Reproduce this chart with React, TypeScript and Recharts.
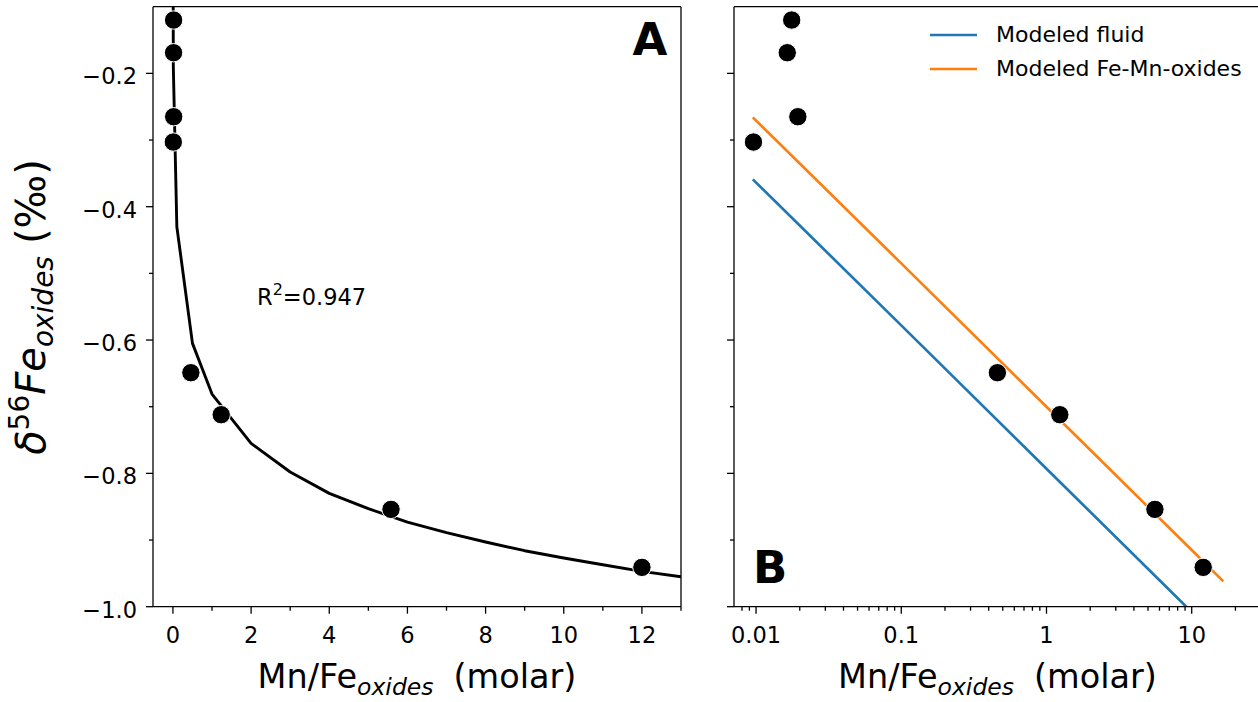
import React from 'react';
import { ComposedChart, Line, Scatter, XAxis, YAxis, Legend } from 'recharts';

// Measured data (Mn/Fe oxides molar ratio vs d56Fe oxides)
const measuredX = [0.0176, 0.0164, 0.0194, 0.0096, 0.459, 1.235, 5.58, 12.0];
const measuredY = [-0.12, -0.169, -0.265, -0.303, -0.649, -0.712, -0.854, -0.941];

// Fitted curve, panel A
const fitX = [0.001, 0.01, 0.1, 0.5, 1, 2, 3, 4, 5, 6, 7, 8, 9, 10, 11, 12, 13];
const fitY = [0.06, -0.19, -0.43, -0.605, -0.681, -0.755, -0.798, -0.83, -0.853, -0.873, -0.889, -0.903, -0.916, -0.927, -0.937, -0.947, -0.955];

// Model lines, panel B
const modelX = [0.0095, 0.1, 1, 10, 16.5];
const fluidY = [-0.359, -0.578, -0.793, -1.008, -1.054];
const oxideY = [-0.266, -0.485, -0.7, -0.915, -0.962];

// Ticks
const yMajor = [-1.0, -0.8, -0.6, -0.4, -0.2];
const yMinor = [-0.9, -0.7, -0.5, -0.3];
const xMajorA = [0, 2, 4, 6, 8, 10, 12];
const xMinorA = [1, 3, 5, 7, 9, 11, 13];
const xMajorB = [0.01, 0.1, 1, 10];
const xMinorB = [0.008, 0.009, 0.02, 0.03, 0.04, 0.05, 0.06, 0.07, 0.08, 0.09, 0.2, 0.3, 0.4, 0.5, 0.6, 0.7, 0.8, 0.9, 2, 3, 4, 5, 6, 7, 8, 9, 20];
const xLabelsB = ['0.01', '0.1', '1', '10'];
const legendOrder = ['Modeled fluid', 'Modeled Fe-Mn-oxides'];

const FONT = 'DejaVu Sans';
const BLUE = '#1f77b4';
const ORANGE = '#ff7f0e';

const pts = (xs: number[], ys: number[]) => xs.map((x, i) => ({ x, y: ys[i] }));
const measured = pts(measuredX, measuredY);
const fit = pts(fitX, fitY);
const fluid = pts(modelX, fluidY);
const oxide = pts(modelX, oxideY);

const isIn = (arr: number[], v: number) => arr.some((m) => Math.abs(m - v) < 1e-9);
const fmtY = (v: number) => v.toFixed(1).replace('-', '\u2212');

const makeXTick = (majors: number[], fmt: (v: number) => string) => (props: any) => {
  const { x, y, payload } = props;
  const v = payload.value;
  const major = isIn(majors, v);
  return (
    <g>
      <line x1={x} x2={x} y1={y} y2={y + (major ? 7 : 4)} stroke="#000" strokeWidth={1.3} />
      {major && (
        <text x={x} y={y + 36.5} textAnchor="middle" fontSize={22.5} fontFamily={FONT} fill="#000">
          {fmt(v)}
        </text>
      )}
    </g>
  );
};

const makeYTick = (showLabel: boolean) => (props: any) => {
  const { x, y, payload } = props;
  const v = payload.value;
  const major = isIn(yMajor, v);
  return (
    <g>
      <line x1={x} x2={x - (major ? 7 : 4)} y1={y} y2={y} stroke="#000" strokeWidth={1.3} />
      {major && showLabel && (
        <text x={x - 16} y={y + 11} textAnchor="end" fontSize={22.5} fontFamily={FONT} fill="#000">
          {fmtY(v)}
        </text>
      )}
    </g>
  );
};

const axisLine = { stroke: '#000', strokeWidth: 1.3 };
const dotShape = (p: any) => <circle cx={p.cx} cy={p.cy} r={9.2} fill="#000" stroke="#fff" strokeWidth={1} />;

const LegendContent = (props: any) => {
  const items = (props.payload || [])
    .filter((p: any) => p.type !== 'none' && legendOrder.includes(p.value))
    .sort((a: any, b: any) => legendOrder.indexOf(a.value) - legendOrder.indexOf(b.value));
  return (
    <div style={{ fontFamily: FONT, fontSize: 22, color: '#000' }}>
      {items.map((it: any) => (
        <div key={it.value} style={{ display: 'flex', alignItems: 'center', height: 34, whiteSpace: 'nowrap' }}>
          <svg width={48} height={6} style={{ display: 'block' }}>
            <line x1={0} y1={3} x2={47} y2={3} stroke={it.color} strokeWidth={2.7} />
          </svg>
          <span style={{ marginLeft: 18, lineHeight: '34px' }}>{it.value}</span>
        </div>
      ))}
    </div>
  );
};

const margin = { top: 5.7, bottom: 94.3 };

export default function App() {
  return (
    <div style={{ position: 'fixed', left: 0, top: 0, width: 1258, height: 702, overflow: 'hidden', background: '#fff' }}>
      <div style={{ position: 'absolute', left: 0, top: 0 }}>
        <ComposedChart width={700} height={702} margin={{ ...margin, left: 152, right: 18 }}>
          <XAxis
            dataKey="x"
            type="number"
            domain={[-0.51, 13]}
            allowDataOverflow
            ticks={[...xMajorA, ...xMinorA].sort((a, b) => a - b)}
            interval={0}
            height={1}
            tickSize={0}
            tickMargin={0}
            tickLine={false}
            axisLine={axisLine}
            tick={makeXTick(xMajorA, (v) => String(v))}
          />
          <XAxis xAxisId="top" orientation="top" type="number" domain={[-0.51, 13]} height={1} tick={false} tickLine={false} axisLine={axisLine} />
          <YAxis
            type="number"
            domain={[-1.0, -0.1]}
            allowDataOverflow
            ticks={[...yMajor, ...yMinor].sort((a, b) => a - b)}
            interval={0}
            width={1}
            tickSize={0}
            tickMargin={0}
            tickLine={false}
            axisLine={axisLine}
            tick={makeYTick(true)}
          />
          <YAxis yAxisId="r" orientation="right" type="number" domain={[-1.0, -0.1]} width={1} tick={false} tickLine={false} axisLine={axisLine} />
          <Line data={fit} dataKey="y" type="linear" stroke="#000" strokeWidth={2.9} dot={false} strokeLinejoin="round" isAnimationActive={false} legendType="none" />
          <Scatter data={measured} dataKey="y" shape={dotShape} isAnimationActive={false} legendType="none" />
        </ComposedChart>
      </div>
      <div style={{ position: 'absolute', left: 700, top: 0 }}>
        <ComposedChart width={580} height={702} margin={{ ...margin, left: 33, right: 18 }}>
          <XAxis
            dataKey="x"
            type="number"
            scale="log"
            domain={[0.00705, 30]}
            allowDataOverflow
            ticks={[...xMajorB, ...xMinorB].sort((a, b) => a - b)}
            interval={0}
            height={1}
            tickSize={0}
            tickMargin={0}
            tickLine={false}
            axisLine={axisLine}
            tick={makeXTick(xMajorB, (v) => xLabelsB[xMajorB.findIndex((m) => Math.abs(m - v) < 1e-9)])}
          />
          <XAxis xAxisId="top" orientation="top" type="number" domain={[0, 1]} height={1} tick={false} tickLine={false} axisLine={axisLine} />
          <YAxis
            type="number"
            domain={[-1.0, -0.1]}
            allowDataOverflow
            ticks={[...yMajor, ...yMinor].sort((a, b) => a - b)}
            interval={0}
            width={1}
            tickSize={0}
            tickMargin={0}
            tickLine={false}
            axisLine={axisLine}
            tick={makeYTick(false)}
          />
          <YAxis yAxisId="r" orientation="right" type="number" domain={[-1.0, -0.1]} width={1} tick={false} tickLine={false} axisLine={axisLine} />
          <Legend
            layout="vertical"
            align="center"
            verticalAlign="middle"
            content={LegendContent}
            wrapperStyle={{ position: 'absolute', left: 230, top: 18, width: 'auto', height: 'auto' }}
          />
          <Line data={fluid} dataKey="y" name="Modeled fluid" type="linear" stroke={BLUE} strokeWidth={2.7} dot={false} isAnimationActive={false} />
          <Line data={oxide} dataKey="y" name="Modeled Fe-Mn-oxides" type="linear" stroke={ORANGE} strokeWidth={2.7} dot={false} isAnimationActive={false} />
          <Scatter data={measured} dataKey="y" shape={dotShape} isAnimationActive={false} legendType="none" />
        </ComposedChart>
      </div>
      <svg width={1258} height={702} style={{ position: 'absolute', left: 0, top: 0, pointerEvents: 'none' }} fontFamily={FONT}>
        <text transform="translate(45,307) rotate(-90)" textAnchor="middle" fontSize={40} fill="#000">
          <tspan fontStyle="italic">δ</tspan>
          <tspan fontSize={28} dy={-16}>56</tspan>
          <tspan fontStyle="italic" dy={16}>Fe</tspan>
          <tspan fontStyle="italic" fontSize={28} dy={8}>oxides</tspan>
          <tspan dy={-8} dx={12}>(‰)</tspan>
        </text>
        <text x={417} y={688} textAnchor="middle" fontSize={33.5} fill="#000">
          <tspan>Mn/Fe</tspan>
          <tspan fontStyle="italic" fontSize={23.5} dy={7}>oxides</tspan>
          <tspan dy={-7} dx={20}>(molar)</tspan>
        </text>
        <text x={997.5} y={688} textAnchor="middle" fontSize={33.5} fill="#000">
          <tspan>Mn/Fe</tspan>
          <tspan fontStyle="italic" fontSize={23.5} dy={7}>oxides</tspan>
          <tspan dy={-7} dx={20}>(molar)</tspan>
        </text>
        <text x={650} y={55} textAnchor="middle" fontSize={45} fontWeight="bold" fill="#000">A</text>
        <text x={753} y={582.7} fontSize={45} fontWeight="bold" fill="#000">B</text>
        <text x={257} y={305} fontSize={22.5} fill="#000">
          <tspan>R</tspan>
          <tspan fontSize={16} dy={-10}>2</tspan>
          <tspan dy={10}>=0.947</tspan>
        </text>
      </svg>
    </div>
  );
}
